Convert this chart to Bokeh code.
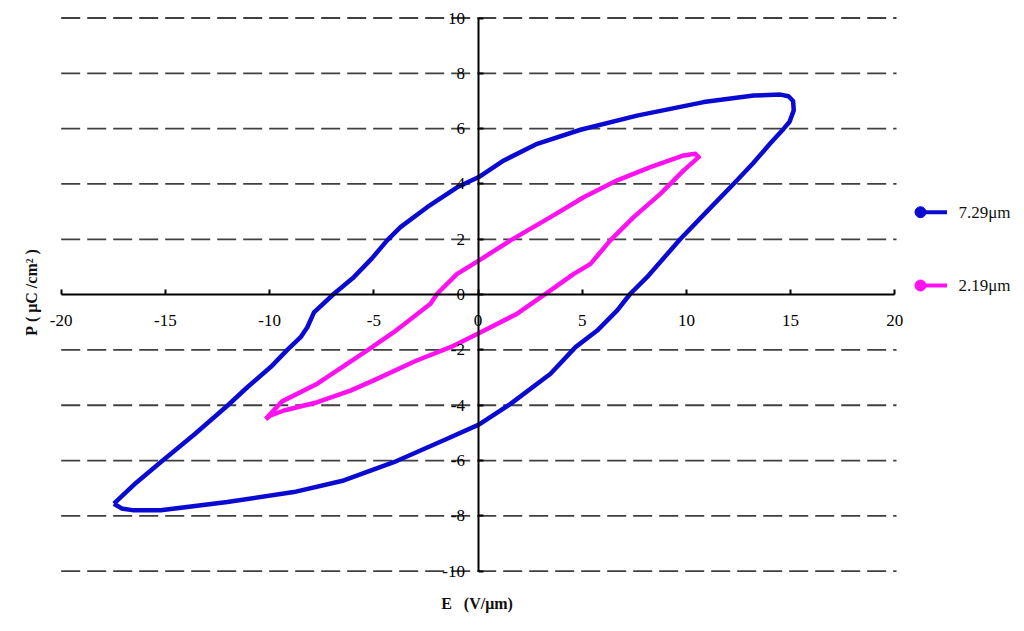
import math
from bokeh.plotting import figure
from bokeh.models import Range1d, LinearAxis, FixedTicker
from bokeh.embed import file_html
from bokeh.resources import INLINE
from bokeh.core.properties import value

# ---------------- data ----------------
# 7.29 um film: loop starting at the negative tip, upper branch -> positive tip -> lower branch
E_729 = [-17.47, -16.4, -15.23, -13.6, -12.0, -11.07, -9.95, -9.15, -8.51, -8.19, -7.87,
         -6.91, -5.96, -5.1, -4.36, -3.72, -2.44, -1.0, 0.04, 1.24, 2.84, 4.92, 7.63,
         10.83, 13.23, 14.51, 14.9, 15.12, 15.15, 14.95, 14.67, 14.03, 13.2, 12.26, 11.0,
         9.7, 8.11, 7.31, 6.68, 5.72, 4.68, 3.48, 1.56, 0.04, -1.48, -4.04, -6.44, -8.84,
         -12.03, -15.23, -16.51, -17.1, -17.47]
P_729 = [-7.56, -6.8, -6.06, -5.05, -4.0, -3.35, -2.62, -2.0, -1.54, -1.18, -0.64,
         0.03, 0.63, 1.3, 1.96, 2.44, 3.16, 3.88, 4.25, 4.85, 5.45, 5.96, 6.47,
         6.96, 7.20, 7.23, 7.17, 7.0, 6.66, 6.25, 6.0, 5.47, 4.75, 4.0, 3.02,
         2.0, 0.63, 0.03, -0.57, -1.30, -1.90, -2.86, -3.95, -4.70, -5.21, -6.06, -6.72, -7.14,
         -7.5, -7.8, -7.8, -7.73, -7.56]

# 2.19 um film
E_219 = [-10.19, -9.4, -7.71, -5.31, -4.04, -2.28, -1.96, -1.0, 0.04, 1.56, 3.48, 5.07,
         6.68, 8.27, 9.87, 10.43, 10.59, 9.87, 8.75, 7.47, 6.35, 5.4, 4.6, 3.48, 1.88,
         0.04, -1.32, -3.0, -5.0, -6.12, -7.71, -9.31, -9.95, -10.19]
P_219 = [-4.5, -3.86, -3.22, -2.02, -1.36, -0.33, 0.03, 0.75, 1.23, 1.96, 2.80, 3.52,
         4.13, 4.61, 5.03, 5.09, 4.97, 4.49, 3.64, 2.80, 1.96, 1.11, 0.75, 0.15, -0.69,
         -1.40, -1.90, -2.4, -3.1, -3.47, -3.89, -4.19, -4.37, -4.5]

series_names = ["7.29\u03bcm", "2.19\u03bcm"]
series_colors = ["#0a0ad2", "#ff10f0"]

x_ticks = [-20, -15, -10, -5, 0, 5, 10, 15, 20]
x_tick_labels = ["-20", "-15", "-10", "-5", "0", "5", "10", "15", "20"]
y_ticks = [-10, -8, -6, -4, -2, 0, 2, 4, 6, 8, 10]
y_tick_labels = ["-10", "-8", "-6", "-4", "-2", "0", "2", "4", "6", "8", "10"]

x_title = "E\u00a0\u00a0\u00a0(V/\u03bcm)"
y_title = "P\u00a0(\u00a0\u03bcC\u00a0/cm\u00b2\u00a0)"

# ---------------- layout ----------------
W, H = 1020, 628
X_LO, X_HI = -20, 20
Y_LO, Y_HI = -10, 10
# pixel placement of the data box (page pixels)
X0_PX, X_SCALE = 60.7, 20.84     # x=-20 at 60.7 px, px per unit
Y0_PX, Y_SCALE = 17.5, 27.66     # y=10 at 17.5 px, px per unit

def px_to_x(px):
    return X_LO + (px - X0_PX) / X_SCALE

def py_to_y(py):
    return Y_HI - (py - Y0_PX) / Y_SCALE

FONT = "'Liberation Serif', 'Times New Roman', serif"

p = figure(width=W, height=H,
           x_range=Range1d(px_to_x(0), px_to_x(W)), y_range=Range1d(py_to_y(H), py_to_y(0)),
           output_backend="svg", toolbar_location=None,
           x_axis_type=None, y_axis_type=None,
           min_border_left=0, min_border_right=0, min_border_top=0, min_border_bottom=0)
p.outline_line_color = None
p.background_fill_color = "white"
p.border_fill_color = "white"

# dashed horizontal grid lines (within the data box only)
grid_y = [t for t in y_ticks if t != 0]
p.segment(x0=[X_LO] * len(grid_y), x1=[px_to_x(896)] * len(grid_y), y0=grid_y, y1=grid_y,
          line_color="#404040", line_width=1.8, line_dash="19 7")

# axes crossing at the origin
common = dict(major_tick_in=5, major_tick_out=0, minor_tick_in=0, minor_tick_out=0,
              axis_line_width=2, major_tick_line_width=2,
              major_label_text_font=FONT, major_label_text_font_size="17px",
              major_label_text_color="black")
xaxis = LinearAxis(fixed_location=0, bounds=(X_LO, X_HI),
                   ticker=FixedTicker(ticks=x_ticks, minor_ticks=[]),
                   major_label_overrides={t: l for t, l in zip(x_ticks, x_tick_labels)},
                   major_label_standoff=20, **common)
p.add_layout(xaxis, "below")

yaxis = LinearAxis(fixed_location=0, bounds=(Y_LO, Y_HI),
                   ticker=FixedTicker(ticks=y_ticks, minor_ticks=[]),
                   major_label_overrides={t: l for t, l in zip(y_ticks, y_tick_labels)},
                   major_label_standoff=13, **common)
p.add_layout(yaxis, "left")

# hysteresis loops
p.line(E_729, P_729, line_color=series_colors[0], line_width=4.5, line_join="round")
p.line(E_219, P_219, line_color=series_colors[1], line_width=4.5, line_join="round")

# legend (circle + short line + label), on the right of the data box
leg_y = [py_to_y(211.7), py_to_y(285.0)]
lx0, lx1, tx = px_to_x(920), px_to_x(946.5), px_to_x(958)
for yy, name, col in zip(leg_y, series_names, series_colors):
    p.segment(x0=[lx0], x1=[lx1], y0=[yy], y1=[yy], line_color=col, line_width=4)
    p.scatter([lx0], [yy], marker="circle", size=11, fill_color=col, line_color=col)
    p.text([tx], [yy], text=[name], text_font=value(FONT), text_font_size="17px",
           text_baseline="middle", text_align="left", text_color="#111111")

# axis titles
p.text([px_to_x(476.5)], [py_to_y(603)], text=[x_title], text_align="center",
       text_baseline="middle", text_font=value(FONT), text_font_size="16px",
       text_font_style="bold", text_color="#111111")
p.text([px_to_x(31)], [py_to_y(292)], text=[y_title], angle=math.pi / 2,
       text_align="center", text_baseline="middle", text_font=value(FONT),
       text_font_size="16px", text_font_style="bold", text_color="#111111")

open("out.html", "w").write(file_html(p, INLINE))
